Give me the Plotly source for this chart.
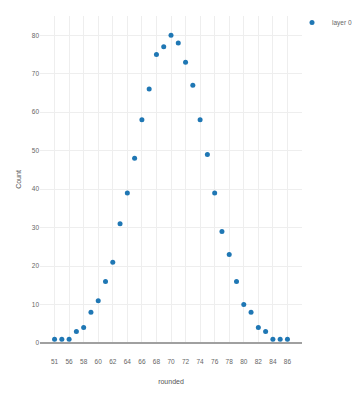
import plotly.graph_objects as go

categories = ["51", "53", "56", "57", "58", "59", "60", "61", "62", "63", "64",
              "65", "66", "67", "68", "69", "70", "71", "72", "73", "74", "75",
              "76", "77", "78", "79", "80", "81", "82", "83", "84", "85", "86"]
counts = [1, 1, 1, 3, 4, 8, 11, 16, 21, 31, 39,
          48, 58, 66, 75, 77, 80, 78, 73, 67, 58, 49,
          39, 29, 23, 16, 10, 8, 4, 3, 1, 1, 1]
series_name = "layer 0"
x_title = "rounded"
y_title = "Count"

tick_cats = categories[::2]

W, H = 359, 400
ML, MR, MT, MB = 40, 0, 16, 57
plot_w = 302 - ML
paper_w = W - ML - MR
plot_h = H - MT - MB
dom_right = plot_w / paper_w

fig = go.Figure()
fig.add_trace(go.Scatter(
    x=categories, y=counts, mode="markers", name=series_name,
    marker=dict(color="#1f77b4", size=5),
    showlegend=True,
))

font_fam = "Liberation Sans, Arial, sans-serif"
fig.update_layout(
    width=W, height=H,
    margin=dict(l=ML, r=MR, t=MT, b=MB, pad=0, autoexpand=False),
    plot_bgcolor="white", paper_bgcolor="white",
    font=dict(family=font_fam, size=6.5, color="#666"),
    showlegend=True,
    legend=dict(x=(292 - ML) / paper_w, y=1 + 8 / plot_h,
                xanchor="left", yanchor="top",
                font=dict(size=6.5, color="#666"), itemwidth=30,
                bgcolor="rgba(0,0,0,0)"),
    xaxis=dict(
        type="category", categoryorder="array", categoryarray=categories,
        range=[-2, 34], domain=[0, dom_right], automargin=False,
        tickmode="array", tickvals=tick_cats, ticktext=tick_cats,
        showgrid=True, gridcolor="#eeeeee", gridwidth=1,
        ticks="outside", ticklen=12, tickcolor="rgba(0,0,0,0)",
        tickfont=dict(size=6.5, color="#666"),
        title=dict(text=x_title, font=dict(size=7, color="#555"), standoff=15),
        zeroline=False, showline=False,
    ),
    yaxis=dict(
        range=[0, 85], dtick=10, automargin=False,
        showgrid=True, gridcolor="#eeeeee", gridwidth=1,
        zeroline=True, zerolinecolor="#a0a0a0", zerolinewidth=1.5,
        ticks="", ticklabelstandoff=0,
        tickfont=dict(size=6.5, color="#666"),
        title=dict(text=y_title, font=dict(size=7, color="#555"), standoff=9),
    ),
)

fig.write_html("out.html", config={"displayModeBar": False},
               post_script="document.body.style.margin='0px';")
